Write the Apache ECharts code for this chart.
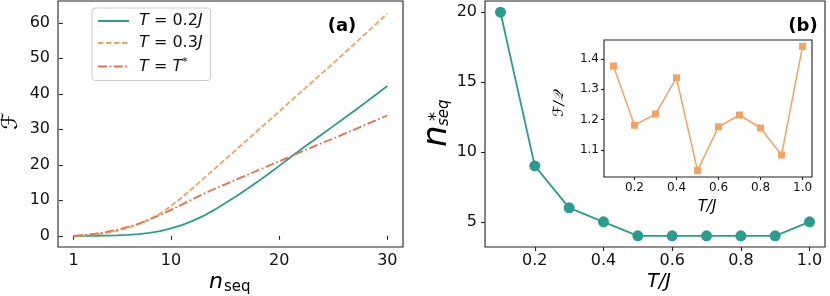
<!DOCTYPE html>
<html>
<head>
<meta charset="utf-8">
<script src="https://cdn.jsdelivr.net/npm/echarts@6/dist/echarts.min.js"></script>
<style>html,body{margin:0;padding:0;background:#fff}#c{width:830px;height:296px}</style>
</head>
<body>
<div id="c"></div>
<script>
// ---- data ----
const nSeq = [1,2,3,4,5,6,7,8,9,10,11,12,13,14,15,16,17,18,19,20,21,22,23,24,25,26,27,28,29,30];
const fT02 = [0,0,0.02,0.05,0.12,0.25,0.45,0.8,1.3,2.1,3.0,4.2,5.6,7.3,9.2,11.1,13.1,15.2,17.4,19.7,22.0,24.3,26.5,28.7,30.9,33.1,35.3,37.6,39.9,42.2];
const fT03 = [0,0.15,0.4,0.8,1.4,2.2,3.3,4.6,6.3,8.4,10.8,13.4,16.1,18.8,21.5,24.2,26.9,29.6,32.3,35.0,37.8,40.5,43.2,45.9,48.6,51.4,54.2,57.0,59.8,62.6];
const fTstar = [0,0.2,0.6,1.1,1.7,2.5,3.4,4.6,5.9,7.3,8.8,10.3,11.8,13.2,14.5,15.8,17.1,18.4,19.7,21.0,22.3,23.6,24.9,26.2,27.4,28.7,30.0,31.3,32.6,33.9];
const tOverJ = [0.1,0.2,0.3,0.4,0.5,0.6,0.7,0.8,0.9,1.0];
const nStar = [20,9,6,5,4,4,4,4,4,5];
const fOverQ = [1.377,1.181,1.218,1.338,1.031,1.176,1.215,1.172,1.083,1.442];
const xTicksA = [1,10,20,30];
const yTicksA = [0,10,20,30,40,50,60];
const xTicksB = [0.2,0.4,0.6,0.8,1.0];
const yTicksB = [5,10,15,20];
const yTicksIn = [1.1,1.2,1.3,1.4];
const legendNames = ['T=0.2J','T=0.3J','T=T*'];

const TEAL = '#2a9d8f', ORANGE = '#f4a261', RED = '#e76f51', AX = '#222';
const FONT = 'DejaVu Sans';

function zip(a,b){return a.map((v,i)=>[v,b[i]]);}
function vAxis(gi, min, max, ticks, fs, fmt, margin, tickLen){
  return {
    type:'value', gridIndex:gi, min:min, max:max,
    splitLine:{show:false},
    axisLine:{show:false},
    axisTick:{show:true, inside:false, length:tickLen, lineStyle:{color:AX, width:1.1}, customValues:ticks},
    axisLabel:{show:true, color:'#111', fontFamily:FONT, fontSize:fs, margin:margin, customValues:ticks, formatter:fmt}
  };
}
const f1 = v => (Math.round(v*10)/10).toFixed(1);
const f0 = v => String(Math.round(v));

const chart = echarts.init(document.getElementById('c'), null, {renderer:'canvas'});
const option = {
  animation:false,
  backgroundColor:'#fff',
  textStyle:{fontFamily:FONT},
  grid:[
    {left:58, right:427, top:1, bottom:49, show:true, borderColor:AX, borderWidth:1.1, backgroundColor:'transparent'},
    {left:485, right:5, top:1, bottom:49, show:true, borderColor:AX, borderWidth:1.1, backgroundColor:'transparent'},
    {left:604, right:18, top:40, bottom:119, show:true, borderColor:AX, borderWidth:1.1, backgroundColor:'#fff'}
  ],
  xAxis:[
    vAxis(0, -0.45, 31.45, xTicksA, 16, f0, 6, 4),
    vAxis(1, 0.055, 1.045, xTicksB, 16, f1, 6, 4),
    vAxis(2, 0.055, 1.045, xTicksB, 12, f1, 5, 3)
  ],
  yAxis:[
    vAxis(0, -3.15, 66.15, yTicksA, 16, f0, 8, 4),
    vAxis(1, 3.2, 20.8, yTicksB, 16, f0, 8, 4),
    vAxis(2, 1.010, 1.463, yTicksIn, 12, f1, 5, 3)
  ],
  legend:{
    data:legendNames,
    left:92, top:8, orient:'vertical',
    padding:[5,8,6,5], itemGap:6,
    itemWidth:31, itemHeight:12,
    itemStyle:{opacity:0},
    borderColor:'#cccccc', borderWidth:1, borderRadius:3, backgroundColor:'rgba(255,255,255,0.85)',
    textStyle:{fontFamily:FONT, fontSize:16, color:'#111',
      rich:{i:{fontFamily:FONT, fontStyle:'italic', fontSize:16, color:'#111'},
            n:{fontFamily:FONT, fontSize:16, color:'#111'},
            s:{fontFamily:FONT, fontSize:11, color:'#111', verticalAlign:'top', padding:[0,0,8,0]}}},
    formatter:function(name){
      if(name==='T=0.2J') return ' {i|T} = 0.2{i|J}';
      if(name==='T=0.3J') return ' {i|T} = 0.3{i|J}';
      return ' {i|T} = {i|T}{s|*}';
    }
  },
  series:[
    {name:'T=0.2J', type:'line', xAxisIndex:0, yAxisIndex:0, data:zip(nSeq,fT02), showSymbol:false, symbol:'none',
      lineStyle:{color:TEAL, width:1.8}, itemStyle:{color:TEAL}},
    {name:'T=0.3J', type:'line', xAxisIndex:0, yAxisIndex:0, data:zip(nSeq,fT03), showSymbol:false, symbol:'none',
      lineStyle:{color:ORANGE, width:1.8, type:[5.5,2.5]}, itemStyle:{color:ORANGE}},
    {name:'T=T*', type:'line', xAxisIndex:0, yAxisIndex:0, data:zip(nSeq,fTstar), showSymbol:false, symbol:'none',
      lineStyle:{color:RED, width:1.8, type:[9,2.5,1.8,2.5]}, itemStyle:{color:RED}},
    {name:'nstar', type:'line', xAxisIndex:1, yAxisIndex:1, data:zip(tOverJ,nStar), symbol:'circle', symbolSize:11,
      lineStyle:{color:TEAL, width:1.8}, itemStyle:{color:TEAL}},
    {name:'ratio', type:'line', xAxisIndex:2, yAxisIndex:2, data:zip(tOverJ,fOverQ), symbol:'rect', symbolSize:7,
      lineStyle:{color:ORANGE, width:1.5}, itemStyle:{color:ORANGE}, z:5}
  ],
  graphic:[
    {type:'text', x:342, y:26, style:{text:'(a)', font:'bold 18px "DejaVu Sans"', fill:'#000', align:'center', verticalAlign:'middle'}},
    {type:'text', x:803, y:26, style:{text:'(b)', font:'bold 18px "DejaVu Sans"', fill:'#000', align:'center', verticalAlign:'middle'}},
    {type:'text', x:11, y:121, rotation:Math.PI/2, style:{text:'ℱ', font:'italic 22px "DejaVu Sans"', fill:'#000', align:'center', verticalAlign:'middle'}},
    {type:'text', x:209, y:282, style:{text:'n', font:'italic 22px "DejaVu Sans"', fill:'#000', align:'left', verticalAlign:'middle'}},
    {type:'text', x:224, y:287, style:{text:'seq', font:'15px "DejaVu Sans"', fill:'#000', align:'left', verticalAlign:'middle'}},
    {type:'text', x:659, y:282, style:{text:'T/J', font:'italic 19px "DejaVu Sans"', fill:'#000', align:'center', verticalAlign:'middle'}},
    {type:'group', x:447, y:147, rotation:Math.PI/2, children:[
      {type:'text', x:0, y:-10, style:{text:'n', font:'italic 34px "DejaVu Sans"', fill:'#000', align:'left', verticalAlign:'middle'}},
      {type:'text', x:21, y:-2.5, style:{text:'seq', font:'italic 15px "DejaVu Sans"', fill:'#000', align:'left', verticalAlign:'middle'}},
      {type:'text', x:26, y:-11, style:{text:'*', font:'18px "DejaVu Sans"', fill:'#000', align:'left', verticalAlign:'middle'}}
    ]},
    {type:'text', x:707, y:207, style:{text:'T/J', font:'italic 15px "DejaVu Sans"', fill:'#000', align:'center', verticalAlign:'middle'}},
    {type:'text', x:559, y:104, rotation:Math.PI/2, style:{text:'ℱ/𝒬', font:'italic 14px "DejaVu Sans"', fill:'#000', align:'center', verticalAlign:'middle'}}
  ]
};
chart.setOption(option);
</script>
</body>
</html>
